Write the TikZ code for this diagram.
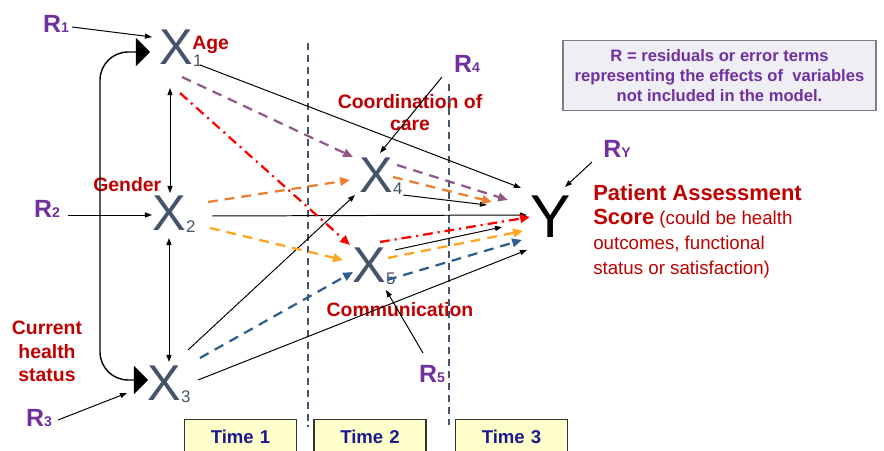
\documentclass[tikz,border=0pt]{standalone}
\usepackage{fontspec}
\setmainfont{Liberation Sans}
\usetikzlibrary{arrows.meta,calc}
\definecolor{xgray}{HTML}{44546A}
\definecolor{rpurple}{HTML}{7030A0}
\definecolor{lblred}{HTML}{C00000}
\definecolor{mauve}{HTML}{8E5A8A}
\definecolor{orangea}{HTML}{ED7D31}
\definecolor{orangeb}{HTML}{FFA41C}
\definecolor{steel}{HTML}{2E5E8E}
\definecolor{timeblue}{HTML}{1A1A8C}
\definecolor{legendfill}{HTML}{EEEEF4}
\definecolor{legendline}{HTML}{7F7F7F}
\definecolor{timefill}{HTML}{FFFFCC}
\newcommand{\xvar}[1]{X\fontsize{12}{12}\selectfont\raisebox{-1.5pt}{#1}}
\newcommand{\rvar}[1]{R\fontsize{10}{10}\selectfont #1}
\begin{document}
\begin{tikzpicture}[x=0.025cm, y=-0.025cm,
    xnode/.style={text=xgray, inner sep=0pt, font=\fontsize{35.8}{36}\selectfont},
    rnode/.style={text=rpurple, inner sep=1pt, font=\bfseries\fontsize{17.7}{18}\selectfont},
    lbl/.style={text=lblred, inner sep=0pt, font=\bfseries\fontsize{13.8}{16.7}\selectfont},
    arr/.style={-{Triangle[length=5pt,width=3.6pt]}, line width=0.7pt},
    twoway/.style={{Triangle[length=5pt,width=3.6pt]}-{Triangle[length=5pt,width=3.6pt]}, line width=0.7pt},
    viaarr/.style={-{Triangle[length=7pt,width=6pt]}, line width=1.6pt, dash pattern=on 7pt off 5pt},
    dotdash/.style={dash pattern=on 7pt off 3.5pt on 1.5pt off 3.5pt},
    bracket/.style={{Triangle[length=10pt,width=20pt]}-{Triangle[length=10pt,width=20pt]}, line width=1pt, rounded corners=20pt},
    timeline/.style={xgray, line width=1.6pt, dash pattern=on 5pt off 3.5pt},
    timebox/.style={draw=black!80, fill=timefill, line width=1pt, text=timeblue, anchor=north, inner sep=0pt,
        font=\bfseries\fontsize{13.2}{15}\selectfont, text width=2.8cm, align=center, text height=0.6cm, text depth=0.6cm}]
    \useasboundingbox (0,0) rectangle (884,451);

    \node[lbl, anchor=base west] (age) at (192,50) {Age};
    \node[lbl, anchor=base west] (gender) at (93,192) {Gender};
    \node[lbl, anchor=north, align=center] (health) at (47,321) {Current\\health\\status};
    \node[lbl, anchor=north, align=center, font=\bfseries\fontsize{13.8}{16}\selectfont] (coord) at (410,94) {Coordination of\\care};
    \node[lbl, anchor=base] (comm) at (400,317) {Communication};
    \node[text=lblred, anchor=north west, align=left, inner sep=0pt, font=\fontsize{13.3}{17.6}\selectfont] (score) at (593,184)
        {{\bfseries\fontsize{15.6}{17.6}\selectfont Patient Assessment}\\{\bfseries\fontsize{15.6}{17.6}\selectfont Score} (could be health\\outcomes, functional\\status or satisfaction)};
    \node[draw=legendline, fill=legendfill, line width=1pt, minimum width=7.825cm, minimum height=1.75cm, text=rpurple,
        align=center, font=\bfseries\fontsize{11.8}{14.2}\selectfont] (legend) at (719.5,75.5)
        {R = residuals or error terms\\representing the effects of\ \ variables\\not included in the model.};

    \node[xnode] (x1) at (181,48) {\xvar{1}};
    \node[xnode] (x2) at (174,214) {\xvar{2}};
    \node[xnode] (x3) at (169,384) {\xvar{3}};
    \node[xnode] (x4) at (381,176) {\xvar{4}};
    \node[xnode] (x5) at (374,266) {\xvar{5}};
    \node[inner sep=0pt, font=\fontsize{43}{43}\selectfont] (y) at (551,217) {Y};

    \node[rnode] (r1) at (56,24) {\rvar{1}};
    \node[rnode] (r2) at (47,209) {\rvar{2}};
    \node[rnode] (r3) at (39,418) {\rvar{3}};
    \node[rnode] (r4) at (467,64) {\rvar{4}};
    \node[rnode] (r5) at (432,374) {\rvar{5}};
    \node[rnode] (ry) at (617,149) {\rvar{Y}};

    \draw[timeline] (308,43) -- (308,427) (449,84) -- (449,425);
    \node[timebox] (t1) at (240.5,419) {Time 1};
    \node[timebox] (t2) at (370,419) {Time 2};
    \node[timebox] (t3) at (511.5,419) {Time 3};

    \draw[bracket] ($(x3)+(-21,-4)$) -| (100,220) |- ($(x1)+(-31,4)$);
    \path[twoway]
        ($(x1)+(-11,40)$) edge ($(x2)+(-4,-21)$)
        ($(x2)+(-5,24)$) edge ($(x3)+(0,-22)$);
    \path[arr]
        ($(r1)+(16,3)$) edge ($(x1)+(-29,-11)$)
        ($(r2)+(21,6)$) edge ($(x2)+(-22,1)$)
        ($(r3)+(19,2)$) edge ($(x3)+(-42,9)$)
        ($(r4)+(-25,13)$) edge ($(x4)+(-1,-23)$)
        ($(r5)+(-9,-21)$) edge ($(x5)+(12,24)$)
        ($(ry)+(-25,13)$) edge ($(y)+(14,-30)$);
    \path[arr]
        ($(x1)+(19,17)$) edge ($(y)+(-30,-29)$)
        ($(x2)+(38,2)$) edge ($(y)+(-24,-2)$)
        ($(x3)+(29,-4)$) edge ($(y)+(-24,33)$)
        ($(x3)+(19,-34)$) edge ($(x4)+(-26,19)$)
        ($(x4)+(22,19)$) edge ($(y)+(-64,-12)$)
        ($(x5)+(21,-16)$) edge ($(y)+(-49,10)$);
    \path[viaarr, mauve]
        ($(x1)+(1,29)$) edge ($(x4)+(-28,-19)$)
        ($(x4)+(16,-11)$) edge ($(y)+(-43,-17)$);
    \path[viaarr, orangea]
        ($(x2)+(34,-12)$) edge ($(x4)+(-31,4)$)
        ($(x4)+(12,1)$) edge ($(y)+(-59,-15)$);
    \path[viaarr, orangeb]
        ($(x2)+(36,14)$) edge ($(x5)+(-31,-6)$)
        ($(x5)+(14,-8)$) edge ($(y)+(-28,14)$);
    \path[viaarr, steel]
        ($(x3)+(31,-26)$) edge ($(x5)+(-21,6)$)
        ($(x5)+(13,14)$) edge ($(y)+(-29,23)$);
    \path[viaarr, dotdash, red]
        ($(x1)+(-1,45)$) edge ($(x5)+(-24,-21)$)
        ($(x5)+(6,-24)$) edge ($(y)+(-21,0)$);
\end{tikzpicture}
\end{document}
